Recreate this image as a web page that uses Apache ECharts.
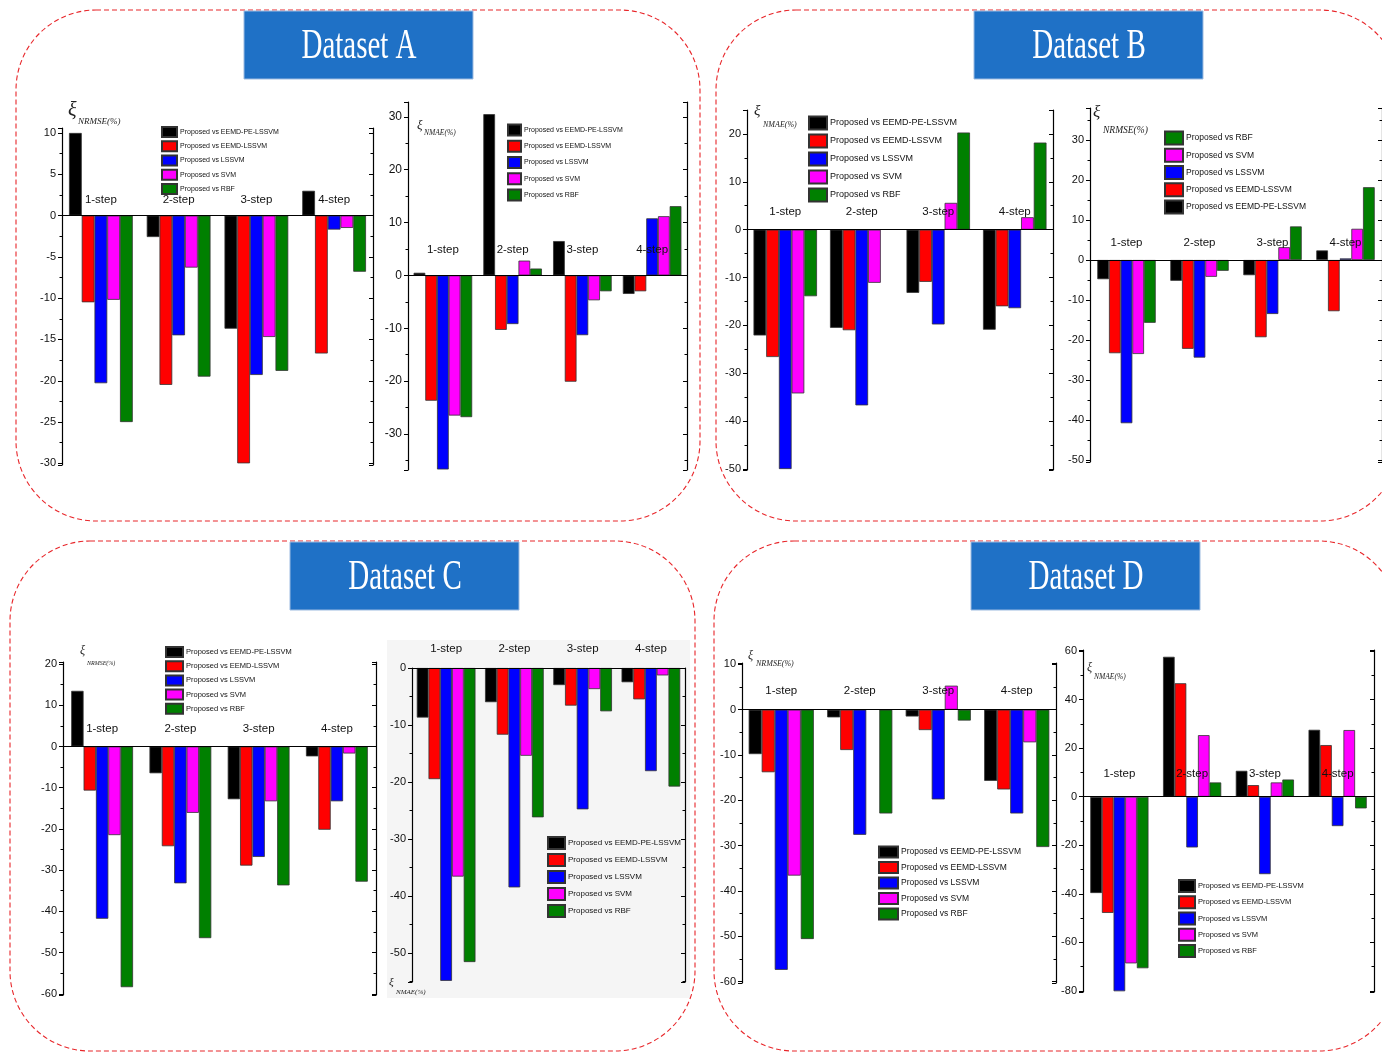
<!DOCTYPE html>
<html>
<head>
<meta charset="utf-8">
<title>Dataset A-D error reduction</title>
<script src="https://cdn.jsdelivr.net/npm/echarts@6/dist/echarts.min.js"></script>
<style>
  html, body { margin: 0; padding: 0; background: #fff; }
  #chart { width: 1382px; height: 1052px; }
</style>
</head>
<body>
<div id="chart"></div>
<script>
var steps = ['1-step', '2-step', '3-step', '4-step']
var models = ['Proposed vs EEMD-PE-LSSVM', 'Proposed vs EEMD-LSSVM', 'Proposed vs LSSVM', 'Proposed vs SVM', 'Proposed vs RBF']
var colors = ['#000000', '#ff0000', '#0000ff', '#ff00ff', '#008000']

// one row per model (same order as models), one column per step
var nrmseA = [
  [10, -2.6, -13.7, 3.0],
  [-10.5, -20.5, -30.0, -16.7],
  [-20.3, -14.5, -19.3, -1.7],
  [-10.2, -6.3, -14.7, -1.5],
  [-25.0, -19.5, -18.8, -6.8]
]
var nmaeA = [
  [0.5, 30.5, 6.5, -3.5],
  [-23.7, -10.3, -20.1, -3.0],
  [-36.7, -9.2, -11.3, 10.8],
  [-26.5, 2.8, -4.7, 11.2],
  [-26.8, 1.3, -3.0, 13.1]
]
var nmaeB = [
  [-22.1, -20.5, -13.2, -20.9],
  [-26.6, -21.0, -10.9, -16.0],
  [-50.0, -36.7, -19.8, -16.4],
  [-34.2, -11.1, 5.6, 2.6],
  [-13.9, null, 20.3, 18.2]
]
var nrmseB = [
  [-4.8, -5.2, -3.8, 2.4],
  [-23.3, -22.2, -19.3, -12.8],
  [-40.8, -24.4, -13.5, 0.4],
  [-23.5, -4.2, 3.2, 7.8],
  [-15.7, -2.7, 8.4, 18.2]
]
var nrmseC = [
  [13.5, -6.5, -12.8, -2.4],
  [-10.7, -24.2, -28.9, -20.2],
  [-41.8, -33.2, -26.8, -13.3],
  [-21.5, -16.1, -13.3, -1.7],
  [-58.4, -46.5, -33.7, -32.8]
]
var nmaeC = [
  [-8.7, -6.0, -3.0, -2.5],
  [-19.5, -11.7, -6.6, -5.5],
  [-54.9, -38.5, -24.8, -18.1],
  [-36.6, -15.4, -3.7, -1.3],
  [-51.6, -26.2, -7.6, -20.8]
]
var nrmseD = [
  [-9.8, -1.7, -1.5, -15.7],
  [-13.8, -8.9, -4.5, -17.6],
  [-57.4, -27.6, -19.8, -22.9],
  [-36.6, null, 5.3, -7.2],
  [-50.6, -22.9, -2.4, -30.3]
]
var nmaeD = [
  [-39.7, 57.7, 10.7, 27.6],
  [-47.9, 46.8, 4.8, 21.3],
  [-80.2, -20.9, -31.9, -12.1],
  [-68.7, 25.4, 5.9, 27.5],
  [-70.7, 5.9, 7.1, -4.8]
]

var sans = '"Liberation Sans", Arial, sans-serif'
var serif = '"Liberation Serif", "DejaVu Serif", serif'

var option = {
  animation: false,
  backgroundColor: '#fff',
  grid: [],
  xAxis: [],
  yAxis: [],
  legend: [],
  series: [],
  graphic: []
}

// panels, title boxes
var panels = [
  { x: 16, y: 10, w: 684, h: 511, title: 'Dataset A', tx: 244, ty: 11 },
  { x: 716, y: 10, w: 684, h: 511, title: 'Dataset B', tx: 974, ty: 11 },
  { x: 10, y: 541, w: 685, h: 510, title: 'Dataset C', tx: 290, ty: 542 },
  { x: 714, y: 541, w: 685, h: 510, title: 'Dataset D', tx: 971, ty: 542 }
]

// light background behind the Dataset C NMAE plot
option.graphic.push({
  type: 'rect', z: -10,
  shape: { x: 387, y: 640, width: 303, height: 358 },
  style: { fill: '#f5f5f5' }
})

panels.forEach(function (p) {
  option.graphic.push({
    type: 'rect',
    shape: { x: p.x, y: p.y, width: p.w, height: p.h, r: 80 },
    style: { fill: 'none', stroke: '#e8262a', lineWidth: 1.1, lineDash: [5, 3] }
  })
  option.graphic.push({
    type: 'rect',
    shape: { x: p.tx, y: p.ty, width: 229, height: 68 },
    style: { fill: '#1f71c6', stroke: '#9dbbe0', lineWidth: 1 }
  })
  option.graphic.push({
    type: 'text',
    x: p.tx + 115, y: p.ty + 36, scaleX: 0.69,
    style: {
      text: p.title, fill: '#fff', font: '42px ' + serif,
      align: 'center', verticalAlign: 'middle', textAlign: 'center', textVerticalAlign: 'middle'
    }
  })
})

function addChart(c) {
  var gi = option.grid.length
  option.grid.push({ left: c.box[0], top: c.box[1], width: c.box[2], height: c.box[3] })

  // the step axis sits on the zero line, with its labels just above it
  var zeroUp = c.top ? 0 : c.box[3] * (0 - c.min) / (c.max - c.min)
  option.xAxis.push({
    type: 'category', gridIndex: gi, data: steps, z: 5,
    position: c.top ? 'top' : 'bottom',
    offset: -zeroUp,
    axisLine: { onZero: false, lineStyle: { color: '#000', width: 1.2 } },
    axisTick: { inside: !!c.top, length: 4, lineStyle: { color: '#000' } },
    axisLabel: {
      inside: !c.top, margin: c.labelGap, color: '#111',
      fontSize: c.stepSize || 11.5, fontFamily: sans
    },
    splitLine: { show: false }
  })

  var fmt = function (v) {
    return Math.abs(v / c.step - Math.round(v / c.step)) < 1e-6 ? String(Math.round(v)) : ''
  }
  var yBase = {
    type: 'value', gridIndex: gi, min: c.min, max: c.max, splitNumber: c.split,
    splitLine: { show: false },
    axisLine: { show: true, lineStyle: { color: '#000', width: 1.2 } },
    minorTick: { show: true, splitNumber: 2, length: 2.5, lineStyle: { color: '#000' } },
    minorSplitLine: { show: false }
  }
  option.yAxis.push(Object.assign({}, yBase, {
    position: 'left',
    axisTick: { show: true, length: 4, lineStyle: { color: '#000' } },
    axisLabel: { margin: 6, color: '#111', fontSize: c.tickSize || 11, fontFamily: sans, formatter: fmt }
  }))
  option.yAxis.push(Object.assign({}, yBase, {
    position: 'right',
    axisTick: { show: true, inside: true, length: 4, lineStyle: { color: '#000' } },
    axisLabel: { show: false }
  }))

  c.data.forEach(function (vals, k) {
    option.series.push({
      name: models[k], type: 'bar',
      xAxisIndex: gi, yAxisIndex: 2 * gi,
      data: vals,
      barGap: '0%', barCategoryGap: c.gap,
      itemStyle: { color: colors[k], borderColor: '#333', borderWidth: 0.8 },
      emphasis: { disabled: true }
    })
  })

  var lg = c.legend
  option.legend.push({
    data: (lg.order || [0, 1, 2, 3, 4]).map(function (i) { return models[i] }),
    orient: 'vertical', left: lg.x, top: lg.y, padding: 0,
    itemWidth: lg.w, itemHeight: lg.h, itemGap: lg.gap,
    icon: 'rect', selectedMode: false,
    textStyle: { fontSize: lg.font, fontFamily: sans, color: '#111', lineHeight: lg.h, padding: [0, 0, 0, -2] }
  })

  var xi = c.xi
  option.graphic.push({
    type: 'text', x: xi.x, y: xi.y,
    style: { text: 'ξ', fill: '#222', font: 'italic ' + xi.size + 'px ' + serif, align: 'left', verticalAlign: 'top', textAlign: 'left', textVerticalAlign: 'top' }
  })
  option.graphic.push({
    type: 'text', x: xi.sx, y: xi.sy,
    style: { text: xi.text, fill: '#222', font: 'italic ' + xi.sub + 'px ' + serif, align: 'left', verticalAlign: 'bottom', textAlign: 'left', textVerticalAlign: 'bottom' }
  })
}

addChart({
  data: nrmseA, box: [62, 128, 311, 337], min: -30.2, max: 10.6, split: 8, step: 5,
  gap: '18%', labelGap: 10,
  legend: { x: 161, y: 126, w: 15, h: 10, gap: 2.25, font: 7 },
  xi: { x: 68, y: 101, size: 20, sx: 78, sy: 126, sub: 9, text: 'NRMSE(%)' }
})
addChart({
  data: nmaeA, box: [408, 102, 279, 368], min: -36.8, max: 32.8, split: 7, step: 10,
  gap: '16%', labelGap: 20, tickSize: 12,
  legend: { x: 507, y: 123.5, w: 13, h: 11, gap: 3.25, font: 7 },
  xi: { x: 417, y: 119, size: 13, sx: 424, sy: 137, sub: 7.5, text: 'NMAE(%)' }
})
addChart({
  data: nmaeB, box: [747, 110, 306, 360], min: -50.2, max: 25, split: 7, step: 10,
  gap: '17%', labelGap: 12,
  legend: { x: 808, y: 115.5, w: 18, h: 13, gap: 3, font: 9 },
  xi: { x: 754, y: 104, size: 15, sx: 763, sy: 129, sub: 8, text: 'NMAE(%)' }
})
addChart({
  data: nrmseB, box: [1090, 108, 300, 354], min: -50.5, max: 38, split: 8, step: 10,
  gap: '20%', labelGap: 11,
  legend: { x: 1164, y: 130.5, w: 18, h: 13, gap: 2.25, font: 8.5, order: [4, 3, 2, 1, 0] },
  xi: { x: 1093, y: 104, size: 17, sx: 1103, sy: 135, sub: 9.5, text: 'NRMSE(%)' }
})
addChart({
  data: nrmseC, box: [63, 662, 313, 333], min: -60.3, max: 20.5, split: 8, step: 10,
  gap: '21%', labelGap: 12,
  legend: { x: 165, y: 646, w: 17, h: 10, gap: 2.2, font: 7.5 },
  xi: { x: 80, y: 645, size: 12, sx: 87, sy: 666, sub: 6, text: 'NRMSE(%)' }
})
addChart({
  data: nmaeC, box: [412, 668, 273, 314], min: -55.1, max: 0, split: 6, step: 10,
  gap: '14%', labelGap: 13, top: true,
  legend: { x: 547, y: 836, w: 17, h: 12, gap: 3, font: 8 },
  xi: { x: 389, y: 977, size: 11, sx: 396, sy: 996, sub: 7, text: 'NMAE(%)' }
})
addChart({
  data: nrmseD, box: [742, 663, 314, 320], min: -60.3, max: 10.3, split: 7, step: 10,
  gap: '17%', labelGap: 13,
  legend: { x: 878, y: 845.5, w: 19, h: 11, gap: 2.5, font: 8.5 },
  xi: { x: 748, y: 650, size: 12, sx: 756, sy: 668, sub: 8, text: 'NRMSE(%)' }
})
addChart({
  data: nmaeD, box: [1083, 650, 291, 342], min: -80.5, max: 60.5, split: 7, step: 20,
  gap: '20%', labelGap: 17,
  legend: { x: 1178, y: 879, w: 16, h: 12, gap: 2.25, font: 7.5 },
  xi: { x: 1087, y: 662, size: 12, sx: 1094, sy: 681, sub: 7.5, text: 'NMAE(%)' }
})

var myChart = echarts.init(document.getElementById('chart'))
myChart.setOption(option)
</script>
</body>
</html>
